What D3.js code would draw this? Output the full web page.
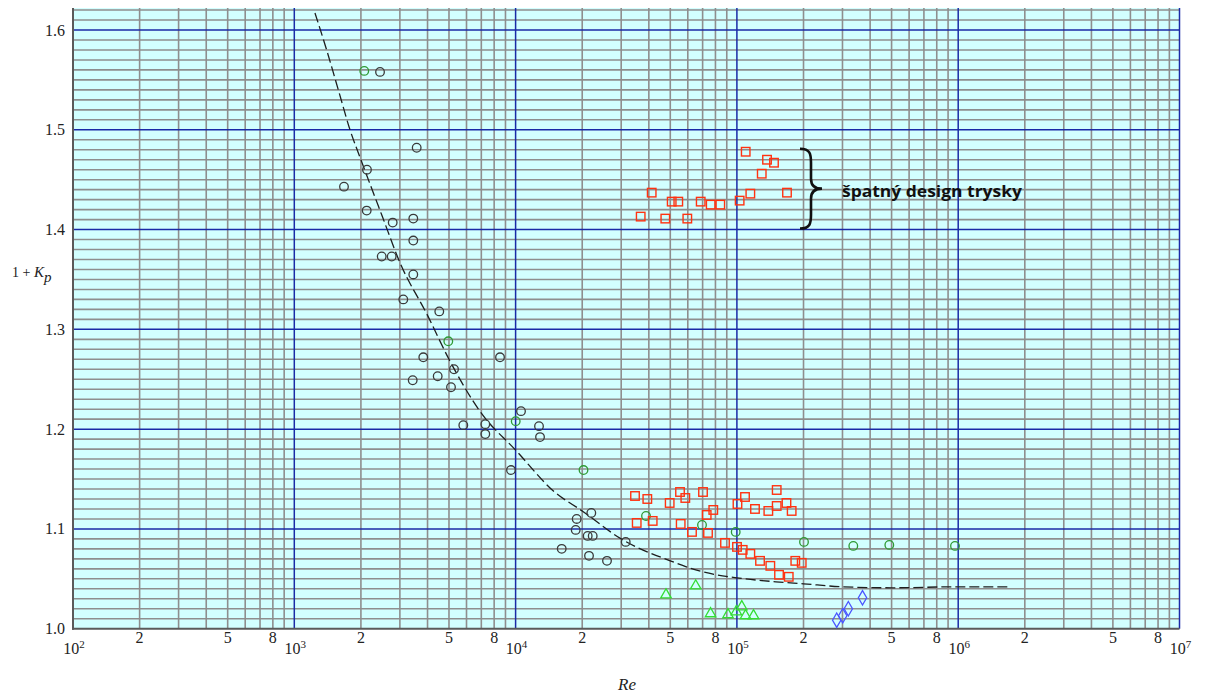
<!DOCTYPE html>
<html>
<head>
<meta charset="utf-8">
<script src="https://cdn.jsdelivr.net/npm/d3@7"></script>
<style>
  html, body { margin: 0; padding: 0; background: #ffffff; }
  svg { display: block; }
</style>
</head>
<body>
<svg id="chart" width="1205" height="695"></svg>
<script>
// Pressure-loss coefficient 1 + Kp against Reynolds number (log axis)

// Series: [Re, 1 + Kp]
const blackCircles = [
  [2440, 1.558], [3573, 1.482], [2130, 1.460], [1677, 1.443], [2124, 1.419],
  [2784, 1.407], [3449, 1.411], [3449, 1.389], [2483, 1.373], [2755, 1.373],
  [3449, 1.355], [3108, 1.330], [4520, 1.318], [3827, 1.272], [8502, 1.272],
  [3428, 1.249], [4446, 1.253], [5268, 1.260], [5106, 1.242], [10578, 1.218],
  [5803, 1.204], [7297, 1.205], [7297, 1.195], [12757, 1.203], [12893, 1.192],
  [9533, 1.159], [21984, 1.116], [18884, 1.110], [18690, 1.099], [21174, 1.093],
  [22305, 1.093], [16157, 1.080], [21464, 1.073], [25882, 1.068], [31443, 1.087]
];

const greenCircles = [
  [2071, 1.559], [4965, 1.288], [10012, 1.208], [20270, 1.159], [38842, 1.113],
  [69555, 1.104], [98760, 1.097], [201000, 1.087], [335700, 1.083],
  [488300, 1.084], [967200, 1.083]
];

const redSquaresHigh = [
  [36750, 1.413], [41210, 1.437], [47480, 1.411], [50740, 1.428], [54350, 1.428],
  [59690, 1.411], [68620, 1.428], [76130, 1.425], [84140, 1.425], [102900, 1.429],
  [109600, 1.478], [115000, 1.436], [129500, 1.456], [136800, 1.470],
  [147100, 1.467], [168400, 1.437]
];

const redSquaresLow = [
  [34640, 1.133], [39370, 1.130], [35260, 1.106], [41640, 1.108], [49690, 1.126],
  [55330, 1.137], [58460, 1.131], [70280, 1.137], [55720, 1.105], [62670, 1.097],
  [74030, 1.096], [73030, 1.114], [78210, 1.119], [88350, 1.086], [100600, 1.125],
  [108800, 1.132], [100100, 1.082], [106200, 1.079], [115000, 1.075], [127200, 1.068],
  [141600, 1.063], [155000, 1.054], [171500, 1.052], [183600, 1.068], [196300, 1.066],
  [120700, 1.120], [138700, 1.118], [151300, 1.123], [151300, 1.139], [167500, 1.126],
  [176800, 1.118]
];

const greenTriangles = [
  [47820, 1.034], [65140, 1.043], [76010, 1.015], [91150, 1.014],
  [99380, 1.017], [105200, 1.022], [109400, 1.013], [118900, 1.013]
];

const blueDiamonds = [
  [282500, 1.0085], [300700, 1.013], [318800, 1.020], [369500, 1.031]
];

// Fitted trend (dashed)
const trendCurve = [
  [1240, 1.617], [1400, 1.580], [1600, 1.536], [1785, 1.500], [2000, 1.470],
  [2500, 1.413], [3000, 1.367], [4000, 1.314], [5000, 1.270], [7000, 1.216],
  [10000, 1.179], [15000, 1.137], [20000, 1.118], [30000, 1.090], [50000, 1.068],
  [70000, 1.057], [100000, 1.051], [150000, 1.047], [200000, 1.045],
  [300000, 1.042], [500000, 1.041], [1000000, 1.042], [1700000, 1.042]
];

// Axis ticks
const yTickValues = [1.0, 1.1, 1.2, 1.3, 1.4, 1.5, 1.6];
const xDecadeExponents = [2, 3, 4, 5, 6, 7];
const xMinorLabelDigits = [2, 5, 8];

const annotationText = "špatný design trysky";

// ---------------------------------------------------------------
const svg = d3.select("#chart");

const x = d3.scaleLog().domain([1e2, 1e7]).range([73, 1179.5]);
const y = d3.scaleLinear().domain([1.0, 1.6]).range([628.7, 30]);
const yMax = 1.622;

const plotLeft = x(1e2), plotRight = x(1e7), plotBottom = y(1.0), plotTop = y(yMax);

// Plot background
svg.append("rect")
  .attr("x", plotLeft).attr("y", plotTop)
  .attr("width", plotRight - plotLeft).attr("height", plotBottom - plotTop)
  .attr("fill", "#d2ffff");

const grid = svg.append("g");

// Minor horizontal grid every 0.01
const hMinor = d3.range(1, 63).map(i => 1 + i / 100).filter(v => Math.round(v * 100) % 10 !== 0);
grid.append("g").selectAll("line").data(hMinor).join("line")
  .attr("x1", plotLeft).attr("x2", plotRight)
  .attr("y1", d => y(d)).attr("y2", d => y(d))
  .attr("stroke", "#8e8e8e").attr("stroke-width", 1.6);

// Minor vertical grid 2..9 per decade
const vMinor = [];
for (let e = 2; e < 7; e++) for (let k = 2; k <= 9; k++) vMinor.push(k * Math.pow(10, e));
grid.append("g").selectAll("line").data(vMinor).join("line")
  .attr("x1", d => x(d)).attr("x2", d => x(d))
  .attr("y1", plotTop).attr("y2", plotBottom)
  .attr("stroke", "#8e8e8e").attr("stroke-width", 1.6);

// Major grid lines
const hMajor = yTickValues.filter(v => v > 1.0);
grid.append("g").selectAll("line").data(hMajor).join("line")
  .attr("x1", plotLeft).attr("x2", plotRight)
  .attr("y1", d => y(d)).attr("y2", d => y(d))
  .attr("stroke", "#1b2aa6").attr("stroke-width", 1.5);

const vMajor = xDecadeExponents.filter(e => e > 2).map(e => Math.pow(10, e));
grid.append("g").selectAll("line").data(vMajor).join("line")
  .attr("x1", d => x(d)).attr("x2", d => x(d))
  .attr("y1", plotTop).attr("y2", plotBottom)
  .attr("stroke", "#1b2aa6").attr("stroke-width", 1.5);

// Left and bottom frame
svg.append("line").attr("x1", plotLeft).attr("x2", plotLeft).attr("y1", plotTop).attr("y2", plotBottom + 1)
  .attr("stroke", "#5a5a5a").attr("stroke-width", 2);
svg.append("line").attr("x1", plotLeft - 1).attr("x2", plotRight).attr("y1", plotBottom).attr("y2", plotBottom)
  .attr("stroke", "#5a5a5a").attr("stroke-width", 2);

// Y tick labels
const serif = "'Liberation Serif', 'Times New Roman', serif";
svg.append("g").selectAll("text").data(yTickValues).join("text")
  .attr("x", 65).attr("y", d => y(d) + 5.5)
  .attr("text-anchor", "end")
  .attr("font-family", serif).attr("font-size", 16).attr("fill", "#222")
  .text(d => d.toFixed(1));

// X minor labels (2, 5, 8)
const minorLabels = [];
for (let e = 2; e < 7; e++) xMinorLabelDigits.forEach(k => minorLabels.push({ k, v: k * Math.pow(10, e) }));
svg.append("g").selectAll("text").data(minorLabels).join("text")
  .attr("x", d => x(d.v)).attr("y", 643)
  .attr("text-anchor", "middle")
  .attr("font-family", serif).attr("font-size", 16).attr("fill", "#222")
  .text(d => d.k);

// X decade labels 10^n
const decLab = svg.append("g").selectAll("text").data(xDecadeExponents).join("text")
  .attr("x", e => x(Math.pow(10, e)) + 1).attr("y", 654)
  .attr("text-anchor", "middle")
  .attr("font-family", serif).attr("font-size", 16).attr("fill", "#222");
decLab.append("tspan").text("10");
decLab.append("tspan").attr("dy", -6).attr("font-size", 11).text(e => e);

// Axis titles
svg.append("text")
  .attr("x", 627).attr("y", 690)
  .attr("text-anchor", "middle")
  .attr("font-family", serif).attr("font-size", 17).attr("font-style", "italic").attr("fill", "#222")
  .text("Re");

const yTitle = svg.append("text")
  .attr("x", 12).attr("y", 277)
  .attr("font-family", serif).attr("font-size", 14).attr("fill", "#222");
yTitle.append("tspan").text("1 + ");
yTitle.append("tspan").attr("font-style", "italic").attr("font-size", 15).text("K");
yTitle.append("tspan").attr("font-style", "italic").attr("font-size", 15).attr("dy", 5).text("p");

// Dashed trend curve
const line = d3.line()
  .x(d => x(d[0])).y(d => y(d[1]))
  .curve(d3.curveMonotoneX);
svg.append("path")
  .datum(trendCurve)
  .attr("d", line)
  .attr("fill", "none")
  .attr("stroke", "#1e1e1e").attr("stroke-width", 1.3)
  .attr("stroke-dasharray", "10,4");

// Markers
const marks = svg.append("g");

function circles(data, color) {
  marks.append("g").selectAll("circle").data(data).join("circle")
    .attr("cx", d => x(d[0])).attr("cy", d => y(d[1])).attr("r", 4.3)
    .attr("fill", "none").attr("stroke", color).attr("stroke-width", 1.3);
}
function squares(data, color) {
  const s = 8.5;
  marks.append("g").selectAll("rect").data(data).join("rect")
    .attr("x", d => x(d[0]) - s / 2).attr("y", d => y(d[1]) - s / 2)
    .attr("width", s).attr("height", s)
    .attr("fill", "none").attr("stroke", color).attr("stroke-width", 1.4);
}
function symbols(data, type, size, color) {
  const gen = d3.symbol().type(type).size(size);
  marks.append("g").selectAll("path").data(data).join("path")
    .attr("transform", d => `translate(${x(d[0])},${y(d[1])})`)
    .attr("d", gen())
    .attr("fill", "none").attr("stroke", color).attr("stroke-width", 1.3);
}

circles(blackCircles, "#3a3a3a");
circles(greenCircles, "#2e9a34");
squares(redSquaresHigh, "#ff3311");
squares(redSquaresLow, "#ff3311");
symbols(greenTriangles, d3.symbolTriangle, 48, "#33dd33");
symbols(blueDiamonds, d3.symbolDiamond, 60, "#4a55ff");

// Annotation: curly brace and label
const bx = 800, by0 = y(1.481), by1 = y(1.401), bm = (by0 + by1) / 2, bw = 22;
svg.append("path")
  .attr("d", `M${bx},${by0}
    C${bx + 10},${by0} ${bx + 11},${by0 + 5} ${bx + 11},${by0 + 14}
    L${bx + 11},${bm - 10}
    C${bx + 11},${bm - 3} ${bx + 15},${bm} ${bx + bw},${bm}
    C${bx + 15},${bm} ${bx + 11},${bm + 3} ${bx + 11},${bm + 10}
    L${bx + 11},${by1 - 14}
    C${bx + 11},${by1 - 5} ${bx + 10},${by1} ${bx},${by1}`)
  .attr("fill", "none").attr("stroke", "#111").attr("stroke-width", 2.6);

svg.append("text")
  .attr("x", 842).attr("y", 197)
  .attr("font-family", "'Open Sans', 'Liberation Sans', sans-serif")
  .attr("font-weight", "bold").attr("font-size", 15.5).attr("fill", "#111")
  .attr("textLength", 180).attr("lengthAdjust", "spacingAndGlyphs")
  .text(annotationText);
</script>
</body>
</html>
